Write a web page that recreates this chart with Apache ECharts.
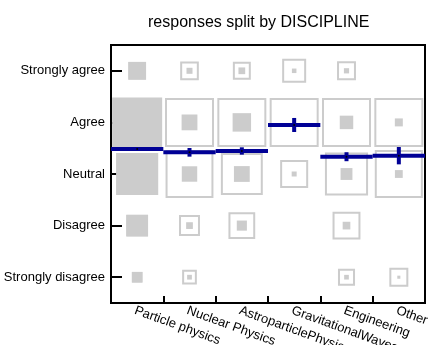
<!DOCTYPE html>
<html>
<head>
<meta charset="utf-8">
<script src="https://cdn.jsdelivr.net/npm/echarts@6/dist/echarts.min.js"></script>
<style>html,body{margin:0;padding:0;background:#fff}#chart{width:439px;height:345px}</style>
</head>
<body>
<div id="chart"></div>
<script>
// Categories
const disciplines = ['Particle physics', 'Nuclear Physics', 'AstroparticlePhysics', 'GravitationalWaves', 'Engineering', 'Other'];
const responses = ['Strongly disagree', 'Disagree', 'Neutral', 'Agree', 'Strongly agree'];

// Filled squares: response counts (order: SD, D, N, A, SA)
const countParticle = [5, 21, 78, 110, 14];
const countNuclear = [1, 2, 10.5, 11, 1.6];
const countAstro = [0, 4.5, 11, 15, 2];
const countGW = [0, 0, 1.1, 0.5, 0.9];
const countEngineering = [0.96, 2.6, 6.2, 8, 1.2];
const countOther = [0.42, 0, 2.7, 2.8, 0];

// Outlined squares: share of the discipline's answers, % (order: SD, D, N, A, SA)
const shareParticle = [2.2, 9.2, 34.2, 48.2, 6.1];
const shareNuclear = [3.8, 7.7, 40.2, 42.1, 6.1];
const shareAstro = [0, 13.8, 33.8, 46.2, 6.2];
const shareGW = [0, 0, 20.9, 63.8, 15.3];
const shareEngineering = [5.1, 13.7, 32.7, 42.2, 6.3];
const shareOther = [7.1, 0, 45.6, 47.3, 0];

// Mean score (1 = Strongly disagree ... 5 = Strongly agree) and its error
const meanScore = [3.485, 3.42, 3.446, 3.95, 3.335, 3.355];
const meanError = [0.03, 0.084, 0.071, 0.136, 0.087, 0.168];

const counts = [countParticle, countNuclear, countAstro, countGW, countEngineering, countOther];
const shares = [shareParticle, shareNuclear, shareAstro, shareGW, shareEngineering, shareOther];

const globalMaxCount = Math.max(...counts.flat());
const FILL_MAX = 50, OUTLINE_MAX = 49;

const fillData = [];
counts.forEach((arr, xi) => arr.forEach((v, yi) => {
  if (v > 0) fillData.push([xi, yi, v]);
}));
const outlineData = [];
shares.forEach((arr, xi) => {
  const colMax = Math.max(...arr);
  arr.forEach((v, yi) => { if (v > 0) outlineData.push([xi, yi, v, colMax]); });
});
const meanData = meanScore.map((m, i) => [i, m, meanError[i]]);

const GRAY = '#cccccc';
const BLUE = '#000096';
const FONT = 'Liberation Sans, Arial, Helvetica, sans-serif';

const chart = echarts.init(document.getElementById('chart'), null, {renderer: 'canvas'});
chart.setOption({
  animation: false,
  backgroundColor: '#fff',
  title: {
    text: 'responses split by DISCIPLINE',
    left: 143, top: 10,
    textStyle: {fontSize: 16, fontWeight: 'normal', color: '#000', fontFamily: FONT}
  },
  grid: {left: 111, right: 14, top: 45, bottom: 42, containLabel: false, outerBoundsMode: 'none',
    show: true, borderColor: '#000', borderWidth: 2, backgroundColor: 'transparent'},
  xAxis: {
    type: 'category', data: disciplines, boundaryGap: true,
    axisLine: {show: true, lineStyle: {color: '#000', width: 2}},
    axisTick: {show: true, inside: true, length: 7, lineStyle: {color: '#000', width: 2}},
    axisLabel: {rotate: -20, interval: 0, fontSize: 13, color: '#000', fontFamily: FONT, margin: 1, align: 'left', verticalAlign: 'top'},
    splitLine: {show: false}
  },
  yAxis: [{
    type: 'category', data: responses, boundaryGap: true,
    axisLine: {show: true, lineStyle: {color: '#000', width: 2}},
    axisTick: {show: true, inside: true, length: 11, alignWithLabel: true, lineStyle: {color: '#000', width: 2}},
    axisLabel: {fontSize: 13, color: '#000', fontFamily: FONT, margin: 6},
    splitLine: {show: false}
  }, {
    type: 'value', min: 0.5, max: 5.5, show: false, splitLine: {show: false}
  }],
  series: [{
    type: 'scatter', name: 'share', xAxisIndex: 0, yAxisIndex: 0,
    symbol: 'rect',
    symbolSize: v => OUTLINE_MAX * Math.sqrt(v[2] / v[3]) - 2,
    itemStyle: {color: 'rgba(0,0,0,0)', borderColor: GRAY, borderWidth: 2, opacity: 1},
    emphasis: {disabled: true},
    data: outlineData, z: 2
  }, {
    type: 'scatter', name: 'count', xAxisIndex: 0, yAxisIndex: 0,
    symbol: 'rect',
    symbolSize: v => FILL_MAX * Math.sqrt(v[2] / globalMaxCount),
    itemStyle: {color: GRAY, opacity: 1},
    emphasis: {disabled: true},
    data: fillData, z: 3
  }, {
    type: 'custom', name: 'mean', xAxisIndex: 0, yAxisIndex: 1, z: 4,
    renderItem: (params, api) => {
      const xi = api.value(0), m = api.value(1), e = api.value(2);
      const c = api.coord([xi, m]);
      const w = api.size([1, 0])[0];
      const t = api.coord([xi, m + e]);
      const b = api.coord([xi, m - e]);
      return {type: 'group', children: [
        {type: 'line', shape: {x1: c[0] - w / 2, y1: c[1], x2: c[0] + w / 2, y2: c[1]}, style: {stroke: BLUE, lineWidth: 4}},
        {type: 'line', shape: {x1: c[0], y1: t[1], x2: c[0], y2: b[1]}, style: {stroke: BLUE, lineWidth: 4}},
        {type: 'circle', shape: {cx: c[0], cy: c[1], r: 1}, style: {fill: '#000'}}
      ]};
    },
    data: meanData
  }]
});
</script>
</body>
</html>
